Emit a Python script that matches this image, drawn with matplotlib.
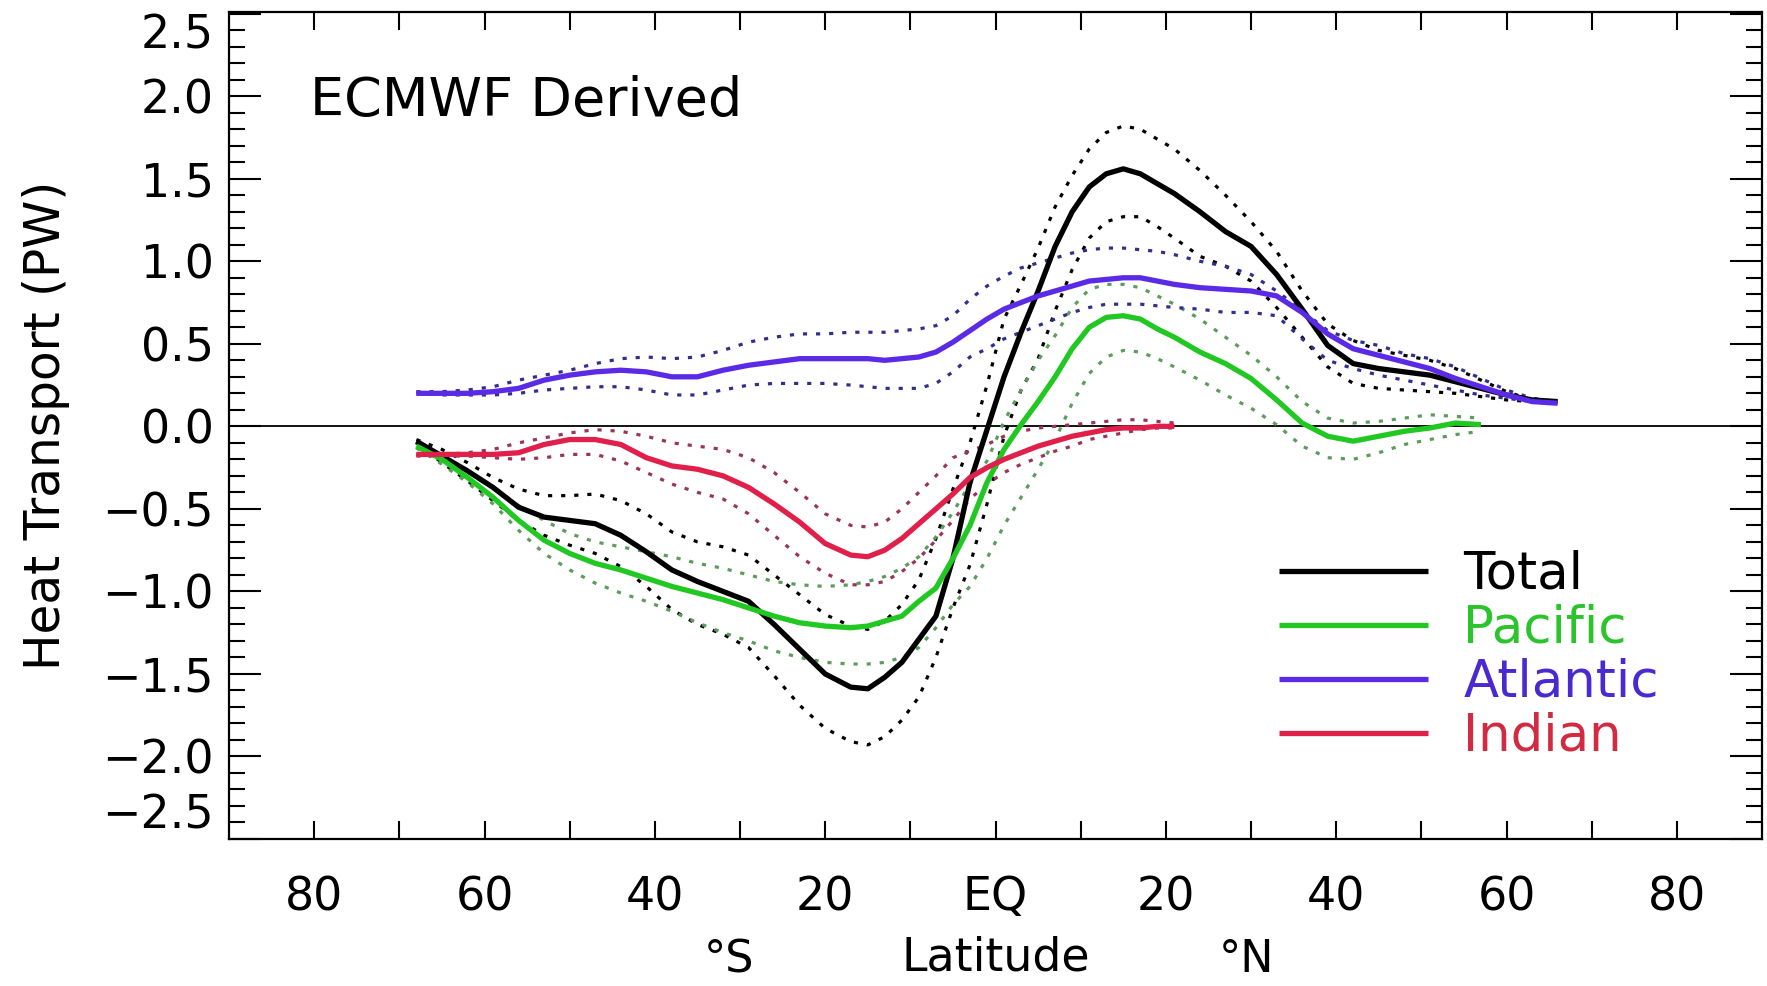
import numpy as np
import matplotlib.pyplot as plt
from matplotlib.ticker import MultipleLocator, FixedLocator, FuncFormatter
import matplotlib.transforms as mtransforms

# latitude grid (negative = south)
lat = [-68, -65, -62, -59, -56, -53, -50, -47, -44, -41, -38, -35, -32, -29, -26, -23, -20, -17,
       -15, -13, -11, -9, -7, -5, -3, -1, 1, 3, 5, 7, 9, 11, 13, 15, 17, 19, 21,
       24, 27, 30, 33, 36, 39, 42, 45, 48, 51, 54, 57, 60, 63, 66]

nan = np.nan

# Total
total = [-0.09, -0.18, -0.27, -0.37, -0.49, -0.55, -0.57, -0.59, -0.66, -0.76, -0.87, -0.94, -1.00, -1.06, -1.20, -1.35, -1.50, -1.58,
         -1.59, -1.52, -1.43, -1.29, -1.15, -0.80, -0.34, -0.02, 0.30, 0.57, 0.82, 1.09, 1.30, 1.45, 1.53, 1.56, 1.53, 1.47, 1.41,
         1.30, 1.18, 1.09, 0.92, 0.71, 0.49, 0.38, 0.35, 0.33, 0.31, 0.27, 0.23, 0.19, 0.16, 0.15]
total_hi = [-0.08, -0.14, -0.22, -0.31, -0.38, -0.42, -0.42, -0.41, -0.45, -0.53, -0.64, -0.70, -0.73, -0.78, -0.90, -1.02, -1.14, -1.21,
            -1.23, -1.18, -1.08, -0.93, -0.68, -0.38, -0.10, 0.25, 0.65, 0.86, 1.08, 1.33, 1.52, 1.68, 1.78, 1.82, 1.80, 1.74, 1.68,
            1.55, 1.40, 1.24, 1.06, 0.82, 0.62, 0.52, 0.46, 0.43, 0.40, 0.35, 0.28, 0.21, 0.16, 0.15]
total_lo = [-0.10, -0.22, -0.33, -0.45, -0.57, -0.66, -0.72, -0.77, -0.85, -0.97, -1.11, -1.20, -1.26, -1.34, -1.51, -1.69, -1.83, -1.91,
            -1.93, -1.88, -1.78, -1.64, -1.40, -1.10, -0.84, -0.47, -0.06, 0.22, 0.41, 0.70, 0.95, 1.14, 1.24, 1.27, 1.27, 1.21, 1.14,
            1.03, 0.97, 0.88, 0.72, 0.54, 0.36, 0.26, 0.23, 0.22, 0.21, 0.20, 0.18, 0.16, 0.15, 0.15]

# Pacific
pacific = [-0.12, -0.20, -0.31, -0.43, -0.57, -0.69, -0.77, -0.83, -0.87, -0.92, -0.97, -1.01, -1.05, -1.10, -1.15, -1.19, -1.21, -1.22,
           -1.21, -1.18, -1.15, -1.06, -0.98, -0.80, -0.60, -0.34, -0.14, 0.01, 0.15, 0.30, 0.47, 0.60, 0.66, 0.67, 0.65, 0.59, 0.54,
           0.45, 0.38, 0.29, 0.16, 0.02, -0.06, -0.09, -0.06, -0.03, -0.01, 0.02, 0.01, nan, nan, nan]
pac_hi = [-0.10, -0.18, -0.27, -0.37, -0.48, -0.57, -0.65, -0.70, -0.73, -0.76, -0.79, -0.83, -0.86, -0.90, -0.94, -0.96, -0.97, -0.96,
          -0.94, -0.91, -0.86, -0.79, -0.67, -0.52, -0.35, -0.21, 0.03, 0.22, 0.40, 0.55, 0.72, 0.83, 0.86, 0.86, 0.84, 0.79, 0.74,
          0.65, 0.54, 0.43, 0.30, 0.15, 0.05, 0.02, 0.03, 0.05, 0.07, 0.06, 0.05, nan, nan, nan]
pac_lo = [-0.13, -0.23, -0.34, -0.47, -0.63, -0.77, -0.87, -0.95, -1.01, -1.06, -1.12, -1.19, -1.25, -1.30, -1.36, -1.40, -1.43, -1.44,
          -1.44, -1.43, -1.40, -1.34, -1.22, -1.08, -0.97, -0.80, -0.60, -0.43, -0.26, -0.08, 0.14, 0.32, 0.42, 0.46, 0.45, 0.41, 0.36,
          0.28, 0.19, 0.11, 0.01, -0.12, -0.19, -0.20, -0.16, -0.11, -0.08, -0.05, -0.03, nan, nan, nan]

# Atlantic
atlantic = [0.20, 0.20, 0.20, 0.21, 0.23, 0.28, 0.31, 0.33, 0.34, 0.33, 0.30, 0.30, 0.34, 0.37, 0.39, 0.41, 0.41, 0.41,
            0.41, 0.40, 0.41, 0.42, 0.45, 0.51, 0.58, 0.65, 0.71, 0.75, 0.79, 0.82, 0.85, 0.88, 0.89, 0.90, 0.90, 0.88, 0.86,
            0.84, 0.83, 0.82, 0.79, 0.69, 0.56, 0.47, 0.43, 0.39, 0.35, 0.29, 0.24, 0.19, 0.15, 0.14]
atl_hi = [0.21, 0.21, 0.22, 0.24, 0.28, 0.31, 0.34, 0.38, 0.41, 0.42, 0.41, 0.42, 0.46, 0.51, 0.54, 0.56, 0.56, 0.57,
          0.57, 0.57, 0.58, 0.59, 0.61, 0.67, 0.77, 0.85, 0.91, 0.96, 0.99, 1.02, 1.05, 1.07, 1.08, 1.08, 1.07, 1.06, 1.04,
          1.00, 0.97, 0.92, 0.82, 0.70, 0.58, 0.52, 0.49, 0.44, 0.41, 0.36, 0.29, 0.22, 0.17, 0.15]
atl_lo = [0.20, 0.19, 0.19, 0.19, 0.20, 0.22, 0.23, 0.24, 0.24, 0.22, 0.19, 0.19, 0.22, 0.25, 0.26, 0.26, 0.26, 0.25,
          0.24, 0.23, 0.23, 0.23, 0.26, 0.33, 0.42, 0.47, 0.53, 0.57, 0.61, 0.65, 0.69, 0.72, 0.74, 0.74, 0.74, 0.73, 0.72,
          0.71, 0.69, 0.69, 0.67, 0.53, 0.40, 0.35, 0.31, 0.28, 0.25, 0.22, 0.19, 0.17, 0.15, 0.14]

# Indian
indian = [-0.17, -0.17, -0.17, -0.17, -0.16, -0.11, -0.08, -0.08, -0.11, -0.19, -0.24, -0.26, -0.30, -0.37, -0.47, -0.58, -0.71, -0.78,
          -0.79, -0.75, -0.68, -0.59, -0.50, -0.41, -0.31, -0.25, -0.20, -0.16, -0.12, -0.09, -0.06, -0.04, -0.02, -0.01, -0.01, 0.00, 0.00,
          nan, nan, nan, nan, nan, nan, nan, nan, nan, nan, nan, nan, nan, nan, nan]
ind_hi = [-0.17, -0.17, -0.16, -0.14, -0.10, -0.07, -0.04, -0.02, -0.03, -0.06, -0.10, -0.12, -0.14, -0.19, -0.28, -0.40, -0.53, -0.60,
          -0.61, -0.58, -0.50, -0.40, -0.30, -0.19, -0.15, -0.11, -0.06, -0.03, -0.01, 0.00, 0.01, 0.02, 0.03, 0.04, 0.04, 0.03, 0.02,
          nan, nan, nan, nan, nan, nan, nan, nan, nan, nan, nan, nan, nan, nan, nan]
ind_lo = [-0.18, -0.18, -0.18, -0.19, -0.20, -0.19, -0.17, -0.17, -0.21, -0.28, -0.35, -0.40, -0.44, -0.53, -0.66, -0.79, -0.89, -0.96,
          -0.96, -0.94, -0.88, -0.80, -0.69, -0.57, -0.44, -0.35, -0.28, -0.23, -0.19, -0.15, -0.12, -0.08, -0.06, -0.04, -0.02, -0.01, -0.01,
          nan, nan, nan, nan, nan, nan, nan, nan, nan, nan, nan, nan, nan, nan, nan]

series_names = ["Total", "Pacific", "Atlantic", "Indian"]
x_ticks = [-80, -70, -60, -50, -40, -30, -20, -10, 0, 10, 20, 30, 40, 50, 60, 70, 80]
x_ticklabels = ["80", "", "60", "", "40", "", "20", "", "EQ", "", "20", "", "40", "", "60", "", "80"]

line_col = {"Total": "black", "Pacific": "#22c822", "Atlantic": "#5a2ae6", "Indian": "#e0204a"}
dot_col = {"Total": "black", "Pacific": "#5c9c5c", "Atlantic": "#30308c", "Indian": "#9a3458"}
text_col = {"Total": "black", "Pacific": "#2cc42c", "Atlantic": "#4a2ad0", "Indian": "#d22a40"}

data = {
    "Total": (total, total_hi, total_lo),
    "Pacific": (pacific, pac_hi, pac_lo),
    "Atlantic": (atlantic, atl_hi, atl_lo),
    "Indian": (indian, ind_hi, ind_lo),
}

plt.rcParams['font.family'] = ['DejaVu Sans']

fig = plt.figure(figsize=(17.67, 9.86), dpi=100)
ax = fig.add_axes([0.1296, 0.1491, 0.8676, 0.8387])

ax.axhline(0, color="black", lw=1.3, zorder=1)

# dotted bounds first, then the solid means on top
for name in series_names:
    mean, hi, lo = data[name]
    for b in (hi, lo):
        ax.plot(lat, b, color=dot_col[name], lw=2.3, linestyle=(0, (1.3, 2.8)), zorder=2)

handles = []
for name in series_names:
    mean = data[name][0]
    h, = ax.plot(lat, mean, color=line_col[name], lw=3.8, label=name, zorder=3,
                 solid_capstyle="butt", solid_joinstyle="round")
    handles.append(h)

ax.set_xlim(-90, 90)
ax.set_ylim(-2.5, 2.51)

ax.xaxis.set_major_locator(FixedLocator(x_ticks))
ax.set_xticklabels(x_ticklabels)
ax.yaxis.set_major_locator(MultipleLocator(0.5))
ax.yaxis.set_minor_locator(MultipleLocator(0.1))
ax.yaxis.set_major_formatter(FuncFormatter(lambda v, p: ("%.1f" % v).replace("-", "\u2212")))

ax.tick_params(axis="both", which="both", direction="in", top=True, right=True, width=1.5)
ax.tick_params(axis="x", which="major", length=13, labelsize=33, pad=26)
ax.tick_params(axis="y", which="major", length=23, labelsize=33, pad=11)
ax.tick_params(axis="y", which="minor", length=11.5)
for s in ax.spines.values():
    s.set_linewidth(1.6)

ax.set_ylabel("Heat Transport (PW)", fontsize=35)
ax.yaxis.set_label_coords(-0.104, 0.5)
ax.set_xlabel("Latitude", fontsize=33, labelpad=11)

trans = mtransforms.blended_transform_factory(ax.transData, ax.transAxes)
ax.text(-31.3, -0.146, "\u00b0S", transform=trans, ha="center", va="center", fontsize=32)
ax.text(29.5, -0.146, "\u00b0N", transform=trans, ha="center", va="center", fontsize=32)

ax.text(-80.5, 1.97, "ECMWF Derived", ha="left", va="center", fontsize=39)

leg = ax.legend(handles=handles, loc="upper left", bbox_to_anchor=(0.685, 0.35),
                frameon=False, fontsize=37, handlelength=2.9, handletextpad=0.68,
                labelspacing=0.08, borderpad=0, borderaxespad=0)
for txt, name in zip(leg.get_texts(), series_names):
    txt.set_color(text_col[name])

# keep the end labels of the y axis inside the frame, as in the original
fig.canvas.draw()
for tick in ax.yaxis.get_major_ticks():
    t = tick.label1.get_text()
    if t == "2.5":
        tick.label1.set_va("top")
    elif t == "\u22122.5":
        tick.label1.set_va("bottom")

fig.savefig("out.png", dpi=100)
